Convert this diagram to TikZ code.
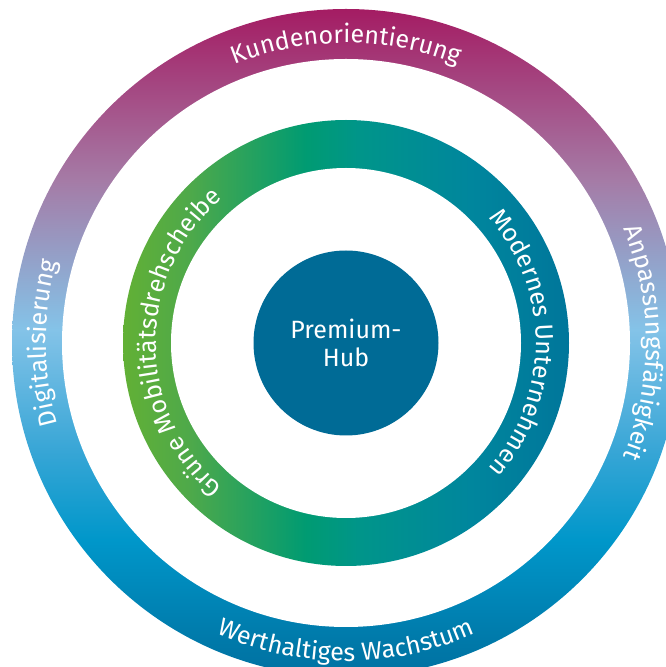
\documentclass[tikz,border=0pt]{standalone}
\usepackage{fontspec}
\setmainfont{Fira Sans}
\usetikzlibrary{decorations.text}
\definecolor{oc1}{HTML}{A41C63}
\definecolor{oc2}{HTML}{A57BA6}
\definecolor{oc3}{HTML}{84C3E8}
\definecolor{oc4}{HTML}{38A6D6}
\definecolor{oc5}{HTML}{0097CA}
\definecolor{oc6}{HTML}{0078A8}
\definecolor{oc7}{HTML}{0071A2}
\definecolor{ic1}{HTML}{62B035}
\definecolor{ic2}{HTML}{4EA94A}
\definecolor{ic3}{HTML}{009B72}
\definecolor{ic4}{HTML}{00958A}
\definecolor{ic5}{HTML}{00869D}
\definecolor{ic6}{HTML}{00769B}
\definecolor{hubblue}{HTML}{006B96}
\pgfdeclareverticalshading{outerring}{100bp}{color(0bp)=(oc7); color(25bp)=(oc7); color(27.4bp)=(oc6); color(35.3bp)=(oc5); color(42bp)=(oc4); color(51bp)=(oc3); color(62.2bp)=(oc2); color(75bp)=(oc1); color(100bp)=(oc1)}
\pgfdeclarehorizontalshading{innerring}{100bp}{color(0bp)=(ic1); color(25bp)=(ic1); color(32.5bp)=(ic2); color(45.5bp)=(ic3); color(51.6bp)=(ic4); color(63.9bp)=(ic5); color(75bp)=(ic6); color(100bp)=(ic6)}
\newcommand\ringfont{\fontsize{25}{30}\selectfont}
\tikzset{
  ringtext/.style={decorate, decoration={text along path, text align=center, text color=white, text={|\ringfont|#1}}},
  hubnode/.style={circle, fill=hubblue, minimum size=185pt, inner sep=0pt, text=white, align=center, font=\fontsize{25}{28}\selectfont}
}
\begin{document}
\begin{tikzpicture}[x=1pt,y=1pt]
\useasboundingbox (0,0) rectangle (666,667);
\clip (0,0) rectangle (666,667);
\coordinate (c) at (346,324);
\shade[shading=outerring] (c) circle[radius=334];
\fill[white] (c) circle[radius=284];
\shade[shading=innerring] (c) circle[radius=223];
\fill[white] (c) circle[radius=175];
\node[hubnode] (hub) at (c) {Premium-\\Hub};
\begin{scope}[shift={(346,324)}]
\path[ringtext={Kundenorientierung}] (170:300) arc[start angle=170, end angle=10, radius=300];
\path[ringtext={Anpassungsfähigkeit}] (80:300) arc[start angle=80, end angle=-80, radius=300];
\path[ringtext={Digitalisierung}] (260:300) arc[start angle=260, end angle=100, radius=300];
\path[ringtext={Werthaltiges Wachstum}] (190:318) arc[start angle=190, end angle=350, radius=318];
\path[ringtext={Grüne Mobilitätsdrehscheibe}] (270:190) arc[start angle=270, end angle=90, radius=190];
\path[ringtext={Modernes Unternehmen}] (90:190) arc[start angle=90, end angle=-90, radius=190];
\end{scope}
\end{tikzpicture}
\end{document}
